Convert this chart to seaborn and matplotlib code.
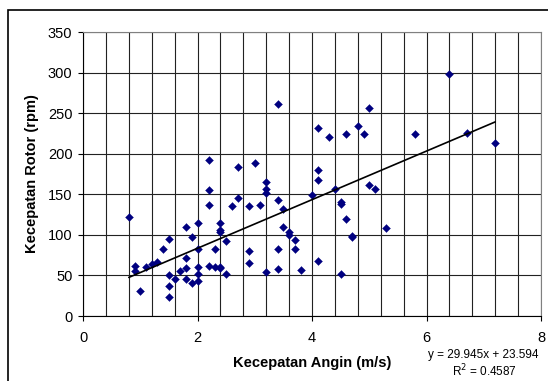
import numpy as np
import pandas as pd
import matplotlib
matplotlib.use("Agg")
import matplotlib.pyplot as plt
import seaborn as sns
from matplotlib.ticker import MultipleLocator
from matplotlib.patches import Rectangle

wind_speed = [0.8, 0.9, 0.9, 1.0, 1.1, 1.2, 1.3, 1.4, 1.5, 1.5, 1.5, 1.5, 1.6, 1.7,
              1.8, 1.8, 1.8, 1.8, 1.9, 1.9, 2.0, 2.0, 2.0, 2.0, 2.0,
              2.2, 2.2, 2.2, 2.2, 2.3, 2.3, 2.4, 2.4, 2.4, 2.4, 2.4, 2.5, 2.5,
              2.6, 2.7, 2.7, 2.9, 2.9, 2.9, 3.0, 3.1, 3.2, 3.2, 3.2, 3.2,
              3.4, 3.4, 3.4, 3.4, 3.5, 3.5, 3.6, 3.6, 3.7, 3.7, 3.8,
              4.0, 4.1, 4.1, 4.1, 4.1, 4.3, 4.4, 4.5, 4.5, 4.5, 4.6, 4.6,
              4.7, 4.7, 4.8, 4.9, 5.0, 5.0, 5.1, 5.3, 5.8, 6.4, 6.7, 7.2]
rotor_speed = [122, 62, 55, 31, 60, 64, 66, 82, 95, 50, 37, 23, 45, 55,
               110, 71, 59, 45, 97, 41, 114, 82, 60, 52, 43,
               192, 155, 137, 62, 83, 60, 114, 106, 104, 61, 59, 92, 52,
               135, 184, 146, 135, 80, 65, 188, 137, 165, 157, 151, 54,
               261, 143, 83, 58, 132, 110, 104, 100, 94, 82, 57,
               149, 232, 180, 167, 68, 220, 156, 141, 138, 52, 224, 119,
               99, 97, 234, 224, 256, 161, 157, 109, 224, 298, 226, 213]

trend_slope = 29.945
trend_intercept = 23.594
r_squared = 0.4587

x_ticks = [0, 2, 4, 6, 8]
y_ticks = [0, 50, 100, 150, 200, 250, 300, 350]

df = pd.DataFrame({"wind": wind_speed, "rotor": rotor_speed})

sns.set_theme(style="white")
plt.rcParams["font.family"] = ["Liberation Sans", "DejaVu Sans"]
plt.rcParams["text.color"] = "black"
plt.rcParams["axes.labelcolor"] = "black"
plt.rcParams["xtick.color"] = "black"
plt.rcParams["ytick.color"] = "black"

fig = plt.figure(figsize=(5.48, 3.81), dpi=100)
ax = fig.add_axes([83 / 548, 1 - 316 / 381, (541 - 83) / 548, (316 - 32) / 381])

ax.set_xlim(0, 8)
ax.set_ylim(0, 350)
ax.set_xticks(x_ticks)
ax.set_yticks(y_ticks)
ax.xaxis.set_minor_locator(MultipleLocator(0.4))
ax.grid(True, which="both", axis="x", color="#222222", linewidth=0.8)
ax.grid(True, which="major", axis="y", color="#222222", linewidth=0.8)
ax.set_axisbelow(True)

sns.scatterplot(data=df, x="wind", y="rotor", ax=ax, marker="D", s=16,
                color="#000080", edgecolor="#000080", linewidth=0.3, zorder=3)

xs = np.array([min(wind_speed), max(wind_speed)])
ax.plot(xs, trend_slope * xs + trend_intercept, color="black", linewidth=1.2, zorder=4)

for sp in ax.spines.values():
    sp.set_color("#808080")
    sp.set_linewidth(0.8)
ax.spines["left"].set_color("black")
ax.spines["bottom"].set_color("black")

ax.tick_params(axis="both", which="major", length=3.6, width=0.8, color="black",
               labelsize=10.5, labelcolor="black", direction="out", bottom=True, left=True)
ax.tick_params(axis="x", which="minor", length=0)
ax.tick_params(axis="x", pad=7)
ax.tick_params(axis="y", pad=4)

ax.set_xlabel("Kecepatan Angin (m/s)", fontsize=10.5, fontweight="bold", labelpad=8,
              color="black")
ax.set_ylabel("Kecepatan Rotor (rpm)", fontsize=10.5, fontweight="bold", labelpad=6,
              color="black")

fig.text(483 / 548, 1 - 355 / 381,
         f"y = {trend_slope}x + {trend_intercept}", ha="center", va="center",
         fontsize=8.5, color="black")
fig.text(484 / 548, 1 - 371 / 381,
         f"R$^2$ = {r_squared}", ha="center", va="center", fontsize=8.5, color="black")

fig.patches.append(Rectangle((8 / 548, -0.1), 1.2, 1 - 10 / 381 + 0.1,
                             transform=fig.transFigure, fill=False,
                             edgecolor="black", linewidth=1.2))

fig.savefig("out.png", dpi=100)
